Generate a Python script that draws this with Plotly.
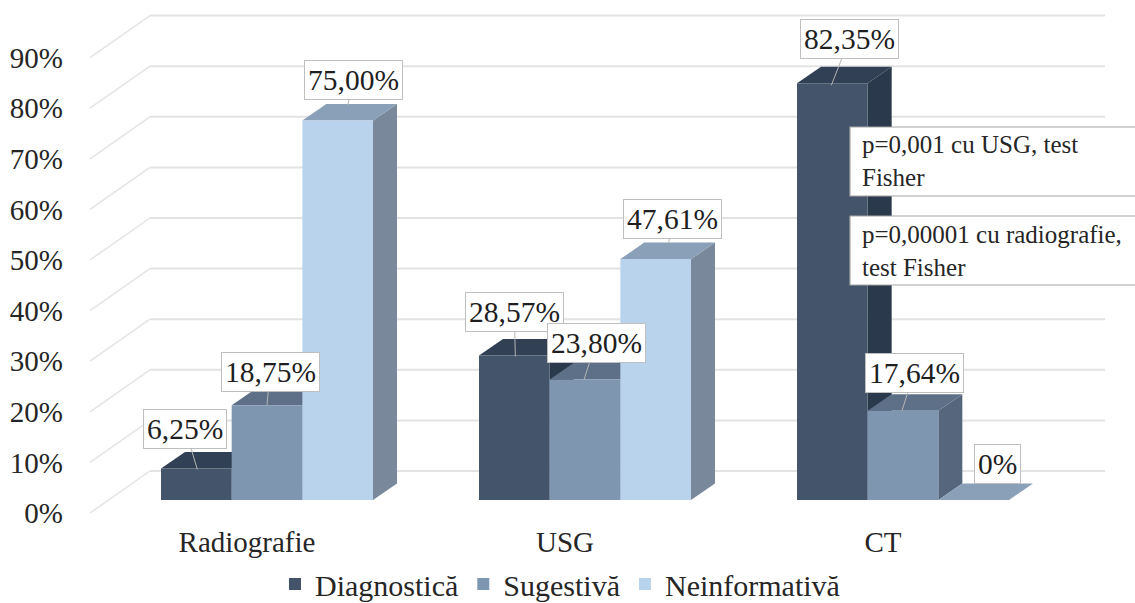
import plotly.graph_objects as go

# Chart data
categories = ["Radiografie", "USG", "CT"]
series_names = ["Diagnostică", "Sugestivă", "Neinformativă"]
diagnostica = [6.25, 28.57, 82.35]
sugestiva = [18.75, 23.80, 17.64]
neinformativa = [75.00, 47.61, 0.0]
value_labels = [
    ["6,25%", "28,57%", "82,35%"],
    ["18,75%", "23,80%", "17,64%"],
    ["75,00%", "47,61%", "0%"],
]
axis_ticks = [0, 10, 20, 30, 40, 50, 60, 70, 80, 90]
notes = ["p=0,001 cu USG, test<br>Fisher", "p=0,00001 cu radiografie,<br>test Fisher"]

# Page layout, in pixels
W, H = 1135, 603
PLOT_LEFT, PLOT_BOTTOM = 64, 522
ZERO_X, ZERO_Y = 267, 500       # centre of the first group, front baseline
PX_PER_CAT, PX_PER_PCT = 318.0, 5.06
BAR_W = 70.67 / PX_PER_CAT

# Pseudo-3D depth offsets in data units
DEPTH_X, DEPTH_Y = 24 / PX_PER_CAT, 16.5 / PX_PER_PCT
WALL_BACK_Y = 29 / PX_PER_PCT
WALL_FRONT_Y = -13 / PX_PER_PCT
WALL_BACK_X = (150 - ZERO_X) / PX_PER_CAT
WALL_FRONT_X = (90 - ZERO_X) / PX_PER_CAT
WALL_END_X = (1105 - ZERO_X) / PX_PER_CAT

x_range = [(PLOT_LEFT - ZERO_X) / PX_PER_CAT, (W - ZERO_X) / PX_PER_CAT]
y_range = [(ZERO_Y - PLOT_BOTTOM) / PX_PER_PCT, ZERO_Y / PX_PER_PCT]


def paper_x(px):
    return (px - PLOT_LEFT) / (W - PLOT_LEFT)


def paper_y(py):
    return (PLOT_BOTTOM - py) / PLOT_BOTTOM


front_colors = ["#44546A", "#7F96B1", "#B9D3EC"]
side_colors = ["#2A394C", "#56667D", "#79899B"]
top_colors = ["#314055", "#5E7088", "#8AA0B8"]
all_series = [diagnostica, sugestiva, neinformativa]

fig = go.Figure()

# Back wall and side wall grid lines
grid_x, grid_y, wall_x, wall_y = [], [], [], []
for t in axis_ticks:
    grid_x += [WALL_BACK_X, WALL_END_X, None]
    grid_y += [t + WALL_BACK_Y, t + WALL_BACK_Y, None]
    wall_x += [WALL_FRONT_X, WALL_BACK_X, None]
    wall_y += [t + WALL_FRONT_Y, t + WALL_BACK_Y, None]
fig.add_trace(go.Scatter(x=wall_x, y=wall_y, mode="lines", showlegend=False, hoverinfo="skip",
                         line=dict(color="#E4E4E4", width=1.5)))
fig.add_trace(go.Scatter(x=grid_x, y=grid_y, mode="lines", showlegend=False, hoverinfo="skip",
                         line=dict(color="#E3E3E3", width=2)))


def polygon(xs, ys, color):
    fig.add_trace(go.Scatter(x=xs, y=ys, mode="lines", fill="toself", fillcolor=color,
                             line=dict(width=0, color=color), showlegend=False, hoverinfo="skip"))


# Side and top faces of every bar, left to right so later bars cover earlier ones
for cat in range(len(categories)):
    for s, values in enumerate(all_series):
        v = values[cat]
        left = cat + (s - 1.5) * BAR_W
        right = left + BAR_W
        if v > 0:
            polygon([right, right + DEPTH_X, right + DEPTH_X, right, right],
                     [0, DEPTH_Y, v + DEPTH_Y, v, 0], side_colors[s])
        polygon([left, right, right + DEPTH_X, left + DEPTH_X, left],
                 [v, v, v + DEPTH_Y, v + DEPTH_Y, v], top_colors[s])

# Front faces on an overlaid axis pair, so they sit above all the depth faces
for s, values in enumerate(all_series):
    fig.add_trace(go.Bar(x=list(range(len(categories))), y=values, name=series_names[s],
                         marker=dict(color=front_colors[s], line=dict(width=0)),
                         xaxis="x2", yaxis="y2", hoverinfo="skip"))

# Value labels: label centre and leader tip, as pixel offsets from the bar's front top centre
label_centres = [
    [(-11, -39), (0, -43), (17, -44)],
    [(3, -33), (11, -37), (11, -38)],
    [(16, -41), (17, -40), (24, -36)],
]
leader_tips = [
    [(1, 1), (1, 1), (-1, 2)],
    [(0, 0), (-1, 0), (-1, 0)],
    [(10, -15), (13, -16), (23, -16)],
]
annotations = []
for s, values in enumerate(all_series):
    for cat, v in enumerate(values):
        tip_x, tip_y = leader_tips[s][cat]
        cx, cy = label_centres[s][cat]
        annotations.append(dict(
            x=cat + (s - 1) * BAR_W + tip_x / PX_PER_CAT,
            y=v - tip_y / PX_PER_PCT,
            xref="x", yref="y",
            ax=cx - tip_x, ay=cy - tip_y, axref="pixel", ayref="pixel",
            text=value_labels[s][cat],
            showarrow=True, arrowhead=0, arrowwidth=1, arrowcolor="#B5B5B5",
            font=dict(family="Liberation Serif", size=29.5, color="#1F1F1F"),
            bgcolor="#FFFFFF", bordercolor="#BFBFBF", borderwidth=1, borderpad=3,
        ))

# Statistical notes on the right
note_boxes = [(127, 196), (216, 285)]
for note, (top, bottom) in zip(notes, note_boxes):
    annotations.append(dict(
        x=paper_x(860), y=paper_y((top + bottom) / 2), xref="paper", yref="paper",
        xanchor="left", yanchor="middle", align="left", showarrow=False,
        text=note, font=dict(family="Liberation Serif", size=25, color="#262626"),
    ))

note_shapes = [
    dict(type="rect", xref="paper", yref="paper", layer="above",
         x0=paper_x(850), x1=paper_x(W + 5), y0=paper_y(bottom), y1=paper_y(top),
         fillcolor="#FFFFFF", line=dict(color="#A6A6A6", width=1.2))
    for top, bottom in note_boxes
]

fig.update_layout(
    width=W, height=H,
    margin=dict(l=PLOT_LEFT, r=0, t=0, b=H - PLOT_BOTTOM, autoexpand=False),
    plot_bgcolor="#FFFFFF", paper_bgcolor="#FFFFFF",
    barmode="group", bargap=1 - 3 * BAR_W, bargroupgap=0,
    font=dict(family="Liberation Serif", color="#262626"),
    xaxis=dict(range=x_range, showgrid=False, zeroline=False, showline=False, ticks="",
               tickmode="array", tickvals=[i - 20 / PX_PER_CAT for i in range(len(categories))],
               ticktext=categories, tickfont=dict(size=29), automargin=False),
    yaxis=dict(range=y_range, showgrid=False, zeroline=False, showline=False, ticks="",
               tickmode="array", tickvals=[t + WALL_FRONT_Y for t in axis_ticks],
               ticktext=[f"{t}%" for t in axis_ticks], tickfont=dict(size=29), automargin=False),
    xaxis2=dict(range=x_range, overlaying="x", visible=False),
    yaxis2=dict(range=y_range, overlaying="y", visible=False),
    legend=dict(orientation="h", x=paper_x(275), y=paper_y(558), xanchor="left", yanchor="top",
                font=dict(size=30), bgcolor="rgba(0,0,0,0)"),
    annotations=annotations,
    shapes=note_shapes,
)

fig.write_html("out.html")
